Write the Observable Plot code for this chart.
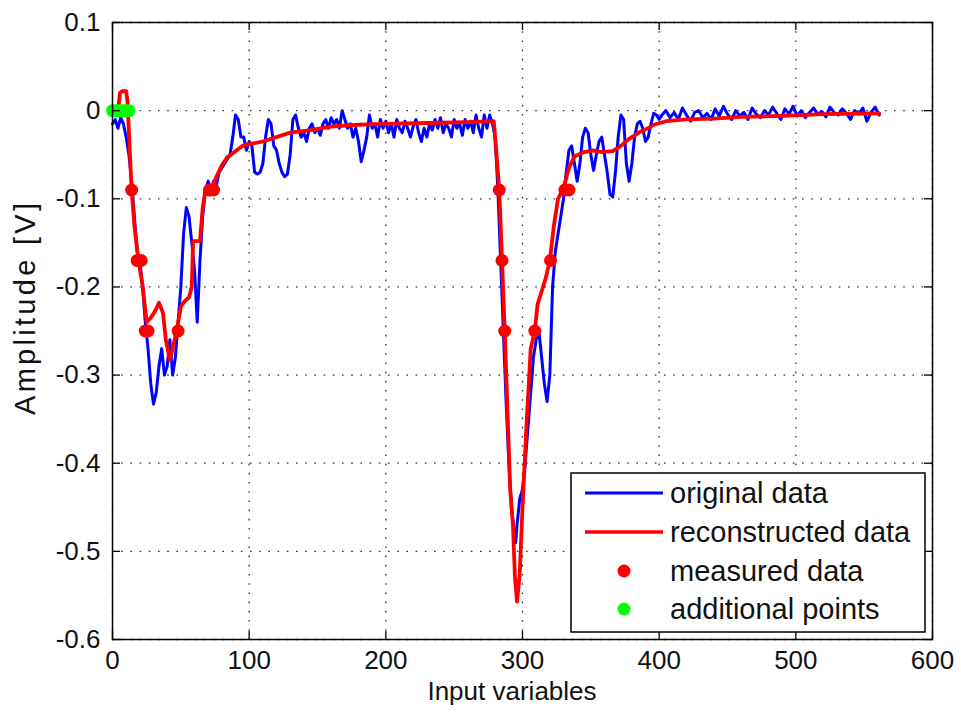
<!DOCTYPE html>
<html>
<head>
<meta charset="utf-8">
<script src="https://cdn.jsdelivr.net/npm/d3@7"></script>
<script src="https://cdn.jsdelivr.net/npm/@observablehq/plot@0.6"></script>
<style>
  html, body { margin: 0; padding: 0; background: #fff; }
  #chart { position: relative; width: 961px; height: 712px; }
</style>
</head>
<body>
<div id="chart"></div>
<script>
const xTicks = [0, 100, 200, 300, 400, 500, 600];
const yTicks = [0.1, 0, -0.1, -0.2, -0.3, -0.4, -0.5, -0.6];
const xLabel = "Input variables";
const yLabel = "Amplitude [V]";
const legendLabels = ["original data", "reconstructed data", "measured data", "additional points"];

const original = [
  [0,-0.015],[2,-0.01],[4,-0.02],[6,-0.008],[8,-0.015],[10,-0.03],[12,-0.05],[14,-0.08],[16,-0.12],[18,-0.16],
  [20,-0.17],[22,-0.2],[24,-0.24],[26,-0.27],[28,-0.31],[30,-0.333],[32,-0.32],[34,-0.29],[36,-0.27],[38,-0.3],
  [40,-0.29],[42,-0.26],[44,-0.3],[46,-0.28],[48,-0.24],[50,-0.2],[52,-0.14],[54,-0.11],[56,-0.12],[58,-0.15],
  [60,-0.18],[62,-0.24],[64,-0.17],[66,-0.12],[68,-0.09],[70,-0.08],[72,-0.09],[74,-0.08],[76,-0.085],[78,-0.07],
  [80,-0.065],[82,-0.06],[84,-0.055],[86,-0.05],[88,-0.03],[90,-0.005],[92,-0.01],[94,-0.03],[96,-0.03],[98,-0.045],
  [100,-0.035],[102,-0.04],[104,-0.07],[106,-0.072],[108,-0.07],[110,-0.06],[112,-0.03],[114,-0.01],[116,-0.015],[118,-0.04],
  [120,-0.045],[122,-0.06],[124,-0.07],[126,-0.075],[128,-0.072],[130,-0.05],[132,-0.01],[134,-0.005],[136,-0.02],[138,-0.03],
  [140,-0.025],[142,-0.035],[144,-0.02],[146,-0.015],[148,-0.025],[150,-0.02],[152,-0.028],[154,-0.015],[156,-0.01],[158,-0.02],
  [160,-0.008],[162,-0.015],[164,-0.01],[166,-0.02],[168,0.0],[170,-0.01],[172,-0.02],[174,-0.015],[176,-0.03],[178,-0.02],
  [180,-0.035],[182,-0.058],[184,-0.045],[186,-0.03],[188,-0.005],[190,-0.02],[192,-0.015],[194,-0.03],[196,-0.01],[198,-0.02],
  [200,-0.012],[202,-0.025],[204,-0.015],[206,-0.03],[208,-0.01],[210,-0.02],[212,-0.025],[214,-0.012],[216,-0.02],[218,-0.03],
  [220,-0.018],[222,-0.01],[224,-0.025],[226,-0.035],[228,-0.02],[230,-0.03],[232,-0.015],[234,-0.022],[236,-0.01],[238,-0.02],
  [240,-0.008],[242,-0.025],[244,-0.015],[246,-0.02],[248,-0.03],[250,-0.01],[252,-0.02],[254,-0.015],[256,-0.028],[258,-0.01],
  [260,-0.02],[262,-0.012],[264,-0.025],[266,-0.005],[268,-0.02],[270,-0.03],[272,-0.005],[274,-0.02],[276,-0.005],[278,-0.015],
  [280,-0.03],[282,-0.09],[284,-0.17],[286,-0.25],[288,-0.33],[290,-0.4],[292,-0.45],[294,-0.48],[295,-0.49],[296,-0.47],
  [298,-0.44],[300,-0.43],[302,-0.4],[304,-0.36],[306,-0.32],[308,-0.28],[310,-0.26],[312,-0.25],[314,-0.28],[316,-0.31],
  [318,-0.33],[320,-0.3],[322,-0.2],[324,-0.16],[326,-0.14],[328,-0.12],[330,-0.1],[332,-0.07],[334,-0.045],[336,-0.04],
  [338,-0.06],[340,-0.08],[342,-0.06],[344,-0.03],[346,-0.02],[348,-0.025],[350,-0.05],[352,-0.068],[354,-0.05],[356,-0.035],
  [358,-0.03],[360,-0.05],[362,-0.07],[364,-0.095],[366,-0.098],[368,-0.07],[370,-0.03],[372,-0.005],[374,-0.01],[376,-0.06],
  [378,-0.08],[380,-0.06],[382,-0.03],[384,-0.015],[386,-0.012],[388,-0.02],[390,-0.035],[392,-0.03],[394,-0.015],[396,-0.003],
  [398,-0.005],[400,-0.01],[402,-0.005],[405,0.0],[408,-0.008],[411,-0.002],[414,-0.01],[417,0.003],[420,-0.005],[423,-0.012],
  [426,-0.002],[429,0.0],[432,-0.008],[435,-0.003],[438,-0.01],[441,0.002],[444,-0.006],[447,0.005],[450,-0.004],[453,-0.01],
  [456,0.0],[459,-0.006],[462,-0.002],[465,-0.01],[468,0.003],[471,-0.004],[474,-0.008],[477,0.0],[480,-0.005],[483,0.004],
  [486,-0.003],[489,-0.01],[492,0.002],[495,-0.004],[498,0.005],[501,-0.006],[504,0.0],[507,-0.008],[510,-0.002],[513,0.003],
  [516,-0.004],[519,-0.001],[522,-0.007],[525,0.004],[528,-0.002],[531,-0.005],[534,0.002],[537,-0.003],[540,-0.01],[543,0.0],
  [546,-0.004],[549,0.003],[552,-0.012],[555,-0.002],[558,0.004],[561,-0.005]
];

const reconstructed = [
  [0,0.0],[4,0.0],[5.5,0.02],[7,0.022],[10,0.022],[11,0.01],[12.5,-0.04],[14,-0.09],[16,-0.13],[19,-0.17],
  [22,-0.198],[25,-0.24],[28,-0.235],[31,-0.228],[34,-0.218],[37,-0.23],[39,-0.26],[42,-0.283],[44,-0.27],[47,-0.25],
  [50,-0.222],[53,-0.216],[56,-0.212],[58,-0.2],[59,-0.148],[64,-0.148],[66,-0.11],[68,-0.09],[72,-0.09],[76,-0.075],
  [80,-0.062],[84,-0.053],[90,-0.046],[95,-0.04],[100,-0.038],[110,-0.035],[120,-0.03],[130,-0.025],[145,-0.022],[160,-0.018],
  [180,-0.016],[200,-0.015],[230,-0.014],[260,-0.013],[279,-0.012],[281,-0.05],[283,-0.09],[285,-0.17],[287,-0.25],[289,-0.34],
  [291,-0.43],[293,-0.47],[294.5,-0.53],[296,-0.557],[298,-0.525],[300,-0.45],[303,-0.355],[306,-0.27],[309,-0.25],[311,-0.22],
  [314,-0.205],[317,-0.19],[320,-0.17],[323,-0.13],[326,-0.1],[330,-0.088],[334,-0.065],[338,-0.052],[345,-0.047],[352,-0.045],
  [358,-0.047],[366,-0.046],[372,-0.04],[378,-0.032],[386,-0.024],[392,-0.02],[396,-0.016],[405,-0.012],[420,-0.01],[440,-0.009],
  [460,-0.007],[490,-0.006],[520,-0.004],[561,-0.003]
];

const measured = [
  [14,-0.09],[18,-0.17],[21,-0.17],[24,-0.25],[26,-0.25],[48,-0.25],[71,-0.09],[74,-0.09],
  [283,-0.09],[285,-0.17],[287,-0.25],[309,-0.25],[320.5,-0.17],[331,-0.09],[334,-0.09]
];

const additional = [[0,0],[2,0],[4,0],[6,0],[8,0],[10,0],[12,0]];

const W = 961, H = 712;
const mL = 112, mR = 29, mT = 22, mB = 73;
const plotW = W - mL - mR, plotH = H - mT - mB;
const tickLen = 8;
const font = "Liberation Sans, Arial, Helvetica, sans-serif";
const textColor = "#111";
const fmt = d => (Math.abs(d) < 1e-9 ? "0" : String(+d.toFixed(1)));
const grid = {stroke: "#333", strokeOpacity: 1, strokeWidth: 1.3, strokeDasharray: "1.6,7.6"};

const chart = Plot.plot({
  width: W, height: H,
  marginLeft: mL, marginRight: mR, marginTop: mT, marginBottom: mB,
  style: {fontFamily: font, background: "#fff", color: "#000"},
  x: {domain: [0, 600]},
  y: {domain: [-0.6, 0.1]},
  marks: [
    Plot.gridX(xTicks, grid),
    Plot.gridY(yTicks, grid),
    Plot.line(original, {x: d => d[0], y: d => d[1], stroke: "#0000ff", strokeWidth: 3, curve: "linear"}),
    Plot.line(reconstructed, {x: d => d[0], y: d => d[1], stroke: "#ff0000", strokeWidth: 3.8, curve: "linear"}),
    Plot.dot(measured, {x: d => d[0], y: d => d[1], r: 6.5, fill: "#ff0000", stroke: null}),
    Plot.dot(additional, {x: d => d[0], y: d => d[1], r: 6.5, fill: "#00ff00", stroke: null}),
    // inward ticks on all four sides
    Plot.ruleX(xTicks, {stroke: "#000", strokeWidth: 1.3, insetTop: plotH - tickLen}),
    Plot.ruleX(xTicks, {stroke: "#000", strokeWidth: 1.3, insetBottom: plotH - tickLen}),
    Plot.ruleY(yTicks, {stroke: "#000", strokeWidth: 1.3, insetRight: plotW - tickLen}),
    Plot.ruleY(yTicks, {stroke: "#000", strokeWidth: 1.3, insetLeft: plotW - tickLen}),
    Plot.frame({stroke: "#000", strokeWidth: 1.5}),
    Plot.axisX(xTicks, {tickSize: 0, tickPadding: 11, tickFormat: fmt, fontSize: 26, label: null, fill: textColor}),
    Plot.axisY(yTicks, {tickSize: 0, tickPadding: 12, tickFormat: fmt, fontSize: 26, label: null, fill: textColor})
  ]
});

document.getElementById("chart").appendChild(chart);

const svg = d3.select(chart);
// axis titles
svg.append("text")
  .attr("x", 512).attr("y", 700)
  .attr("text-anchor", "middle")
  .attr("font-family", font).attr("font-size", 26).attr("fill", textColor)
  .text(xLabel);
svg.append("text")
  .attr("transform", "translate(35,309) rotate(-90)")
  .attr("text-anchor", "middle")
  .attr("textLength", 212).attr("lengthAdjust", "spacing")
  .attr("font-family", font).attr("font-size", 29).attr("fill", textColor)
  .text(yLabel);

// legend
const lg = svg.append("g");
lg.append("rect").attr("x", 571).attr("y", 473).attr("width", 354).attr("height", 159)
  .attr("fill", "#fff").attr("stroke", "#000").attr("stroke-width", 1.5);
const rowsY = [493, 532, 571, 609];
const legendStyles = [
  {type: "line", color: "#0000ff", w: 3},
  {type: "line", color: "#ff0000", w: 3.4},
  {type: "dot", color: "#ff0000"},
  {type: "dot", color: "#00ff00"}
];
legendLabels.forEach((label, i) => {
  const s = legendStyles[i], y = rowsY[i];
  if (s.type === "line") {
    lg.append("line").attr("x1", 585).attr("x2", 663).attr("y1", y).attr("y2", y)
      .attr("stroke", s.color).attr("stroke-width", s.w);
  } else {
    lg.append("circle").attr("cx", 624).attr("cy", y).attr("r", 6.5).attr("fill", s.color);
  }
  lg.append("text").attr("x", 670).attr("y", y + 10)
    .attr("text-anchor", "start")
    .attr("font-family", font).attr("font-size", 29).attr("fill", textColor)
    .text(label);
});
</script>
</body>
</html>
